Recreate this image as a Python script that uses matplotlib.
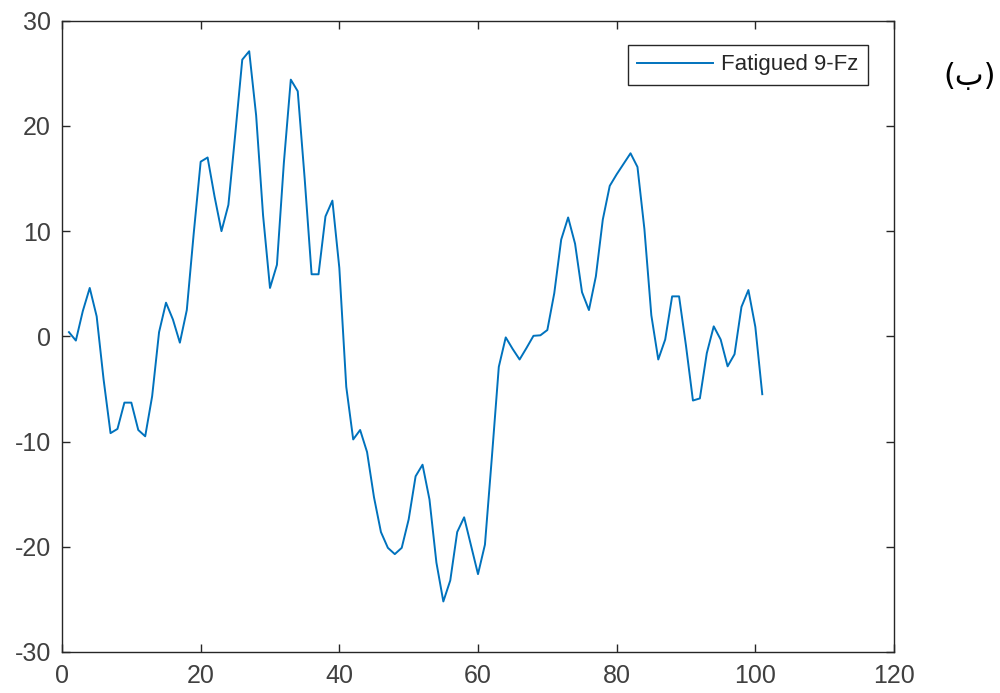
import matplotlib
matplotlib.use("Agg")
import matplotlib.pyplot as plt

x_vals = list(range(1, 102))
y_vals = [
    0.4, -0.4, 2.4, 4.6, 1.9, -4.1, -9.2, -8.8, -6.3, -6.3,
    -8.9, -9.5, -5.7, 0.4, 3.2, 1.6, -0.6, 2.5, 9.8, 16.6,
    17.0, 13.3, 10.0, 12.5, 19.3, 26.3, 27.1, 21.0, 11.5, 4.6,
    6.8, 16.5, 24.4, 23.3, 15.0, 5.9, 5.9, 11.4, 12.9, 6.5,
    -4.8, -9.8, -8.9, -11.0, -15.3, -18.6, -20.1, -20.7, -20.1, -17.4,
    -13.3, -12.2, -15.5, -21.5, -25.2, -23.2, -18.6, -17.2, -19.9, -22.6,
    -19.8, -11.5, -2.9, -0.1, -1.2, -2.2, -1.1, 0.05, 0.1, 0.6,
    4.1, 9.2, 11.3, 8.8, 4.2, 2.5, 5.7, 11.1, 14.3, 15.4,
    16.4, 17.4, 16.1, 10.2, 2.0, -2.2, -0.3, 3.8, 3.8, -0.9,
    -6.1, -5.9, -1.6, 0.95, -0.3, -2.85, -1.7, 2.8, 4.4, 0.9,
    -5.5,
]
series_label = "Fatigued 9-Fz"
x_ticks = [0, 20, 40, 60, 80, 100, 120]
y_ticks = [-30, -20, -10, 0, 10, 20, 30]

plt.rcParams['font.family'] = ['Liberation Sans', 'DejaVu Sans']
plt.rcParams['axes.unicode_minus'] = False

fig = plt.figure(figsize=(10, 6.93), dpi=100)
ax = fig.add_axes([0.062, 0.0592, 0.832, 0.9109])
ax.plot(x_vals, y_vals, color='#0072BD', linewidth=1.4, label=series_label)
ax.set_xlim(0, 120)
ax.set_ylim(-30, 30)
ax.set_xticks(x_ticks)
ax.set_yticks(y_ticks)
ax.tick_params(direction='in', top=True, right=True, length=6, width=1,
               colors='#262626', labelsize=18)
ax.tick_params(axis='y', pad=8)
ax.tick_params(axis='x', pad=9)
for lbl in ax.get_xticklabels() + ax.get_yticklabels():
    lbl.set_color('#404040')
for s in ax.spines.values():
    s.set_color('#262626')
    s.set_linewidth(1)

leg = ax.legend(loc='upper right', bbox_to_anchor=(0.969, 0.9615), borderaxespad=0,
                fancybox=False, edgecolor='#262626', fontsize=16, handlelength=3.4,
                handletextpad=0.4, borderpad=0.42, framealpha=1)
leg.get_frame().set_linewidth(1)
for t in leg.get_texts():
    t.set_color('#262626')

fig.text(0.970, 0.890, "(ب)", fontsize=22, family=['DejaVu Sans'],
         ha='center', va='center', color='black')

fig.savefig("out.png", dpi=100)
